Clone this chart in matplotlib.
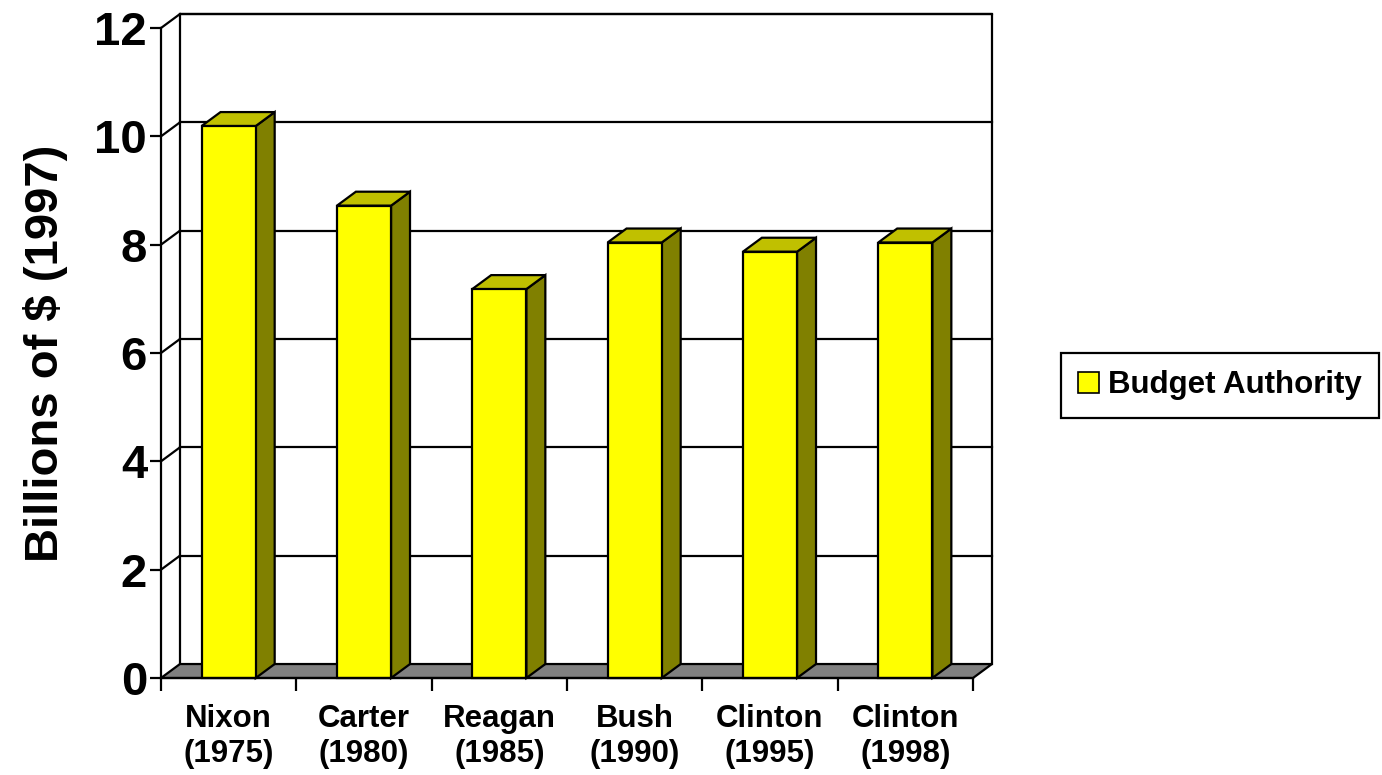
import matplotlib
matplotlib.use("Agg")
import matplotlib.pyplot as plt
from matplotlib.patches import Polygon, Patch

plt.rcParams["font.family"] = ["Liberation Sans", "DejaVu Sans"]
plt.rcParams["font.weight"] = "bold"

# ── data ──────────────────────────────────────────────────────────────────────
presidents = ["Nixon", "Carter", "Reagan", "Bush", "Clinton", "Clinton"]
years = ["1975", "1980", "1985", "1990", "1995", "1998"]
budget_authority = [10.19, 8.72, 7.18, 8.04, 7.87, 8.04]
y_ticks = [0, 2, 4, 6, 8, 10, 12]

# ── styling ───────────────────────────────────────────────────────────────────
FRONT = "#FFFF00"
TOP = "#C0C000"
SIDE = "#808000"
FLOOR = "#808080"
LW = 1.6
DX, DY = 0.14, 0.258      # depth offset of the pseudo-3D box, in data units
BAR_W = 0.4
YMAX = 12

fig = plt.figure(figsize=(13.82, 7.75), dpi=100)
ax = fig.add_axes([161 / 1382, 97 / 775, 812 / 1382, 650 / 775])
n = len(presidents)
ax.set_xlim(0, n)
ax.set_ylim(0, YMAX)
ax.patch.set_visible(False)
for s in ["top", "right"]:
    ax.spines[s].set_visible(False)
for s in ["left", "bottom"]:
    ax.spines[s].set_linewidth(LW)
    ax.spines[s].set_zorder(6)


def poly(pts, fc, z):
    ax.add_patch(Polygon(pts, closed=True, facecolor=fc, edgecolor="black",
                         linewidth=LW, clip_on=False, zorder=z,
                         joinstyle="miter"))


def line(xs, ys, z=1):
    ax.plot(xs, ys, color="black", linewidth=LW, clip_on=False, zorder=z,
            solid_capstyle="projecting")


# back wall outline and gridlines
line([DX, DX, n + DX, n + DX], [DY, YMAX + DY, YMAX + DY, DY])
for v in y_ticks[1:]:
    line([DX, n + DX], [v + DY, v + DY])
    line([0, DX], [v, v + DY])

# floor
poly([(0, 0), (n, 0), (n + DX, DY), (DX, DY)], FLOOR, 2)

# bars: front, side, top faces
for i, v in enumerate(budget_authority):
    x0 = i + 0.5 - BAR_W / 2
    x1 = x0 + BAR_W
    poly([(x1, 0), (x1 + DX, DY), (x1 + DX, v + DY), (x1, v)], SIDE, 3)
    poly([(x0, v), (x1, v), (x1 + DX, v + DY), (x0 + DX, v + DY)], TOP, 3)
    poly([(x0, 0), (x1, 0), (x1, v), (x0, v)], FRONT, 4)

# axes ticks
ax.set_yticks(y_ticks)
ax.set_yticklabels([str(t) for t in y_ticks], fontsize=34, fontweight="bold")
ax.tick_params(axis="y", direction="out", length=8, width=LW, pad=2)

ax.set_xticks(range(n + 1))
ax.set_xticklabels([])
ax.tick_params(axis="x", which="major", direction="out", length=9, width=LW)
ax.set_xticks([i + 0.5 for i in range(n)], minor=True)
ax.set_xticklabels([f"{p}\n({y})" for p, y in zip(presidents, years)],
                   minor=True, fontsize=22.5, fontweight="bold",
                   linespacing=1.22)
ax.tick_params(axis="x", which="minor", length=0, pad=19)

ax.set_ylabel("Billions of $ (1997)", fontsize=34, fontweight="bold",
              labelpad=19)

# legend, pinned by its right edge so the frame stays inside the figure
handle = Patch(facecolor=FRONT, edgecolor="black", linewidth=1.2)
leg = fig.legend([handle], ["Budget Authority"], loc="center right",
                 bbox_to_anchor=(1379 / 1382, 1 - 385.5 / 775),
                 prop={"size": 22.5, "weight": "bold"},
                 fancybox=False, edgecolor="black", framealpha=1,
                 borderaxespad=0, borderpad=0.55, handlelength=0.65,
                 handleheight=0.62, handletextpad=0.3)
leg.get_frame().set_linewidth(LW)

fig.savefig("out.png", dpi=100)
